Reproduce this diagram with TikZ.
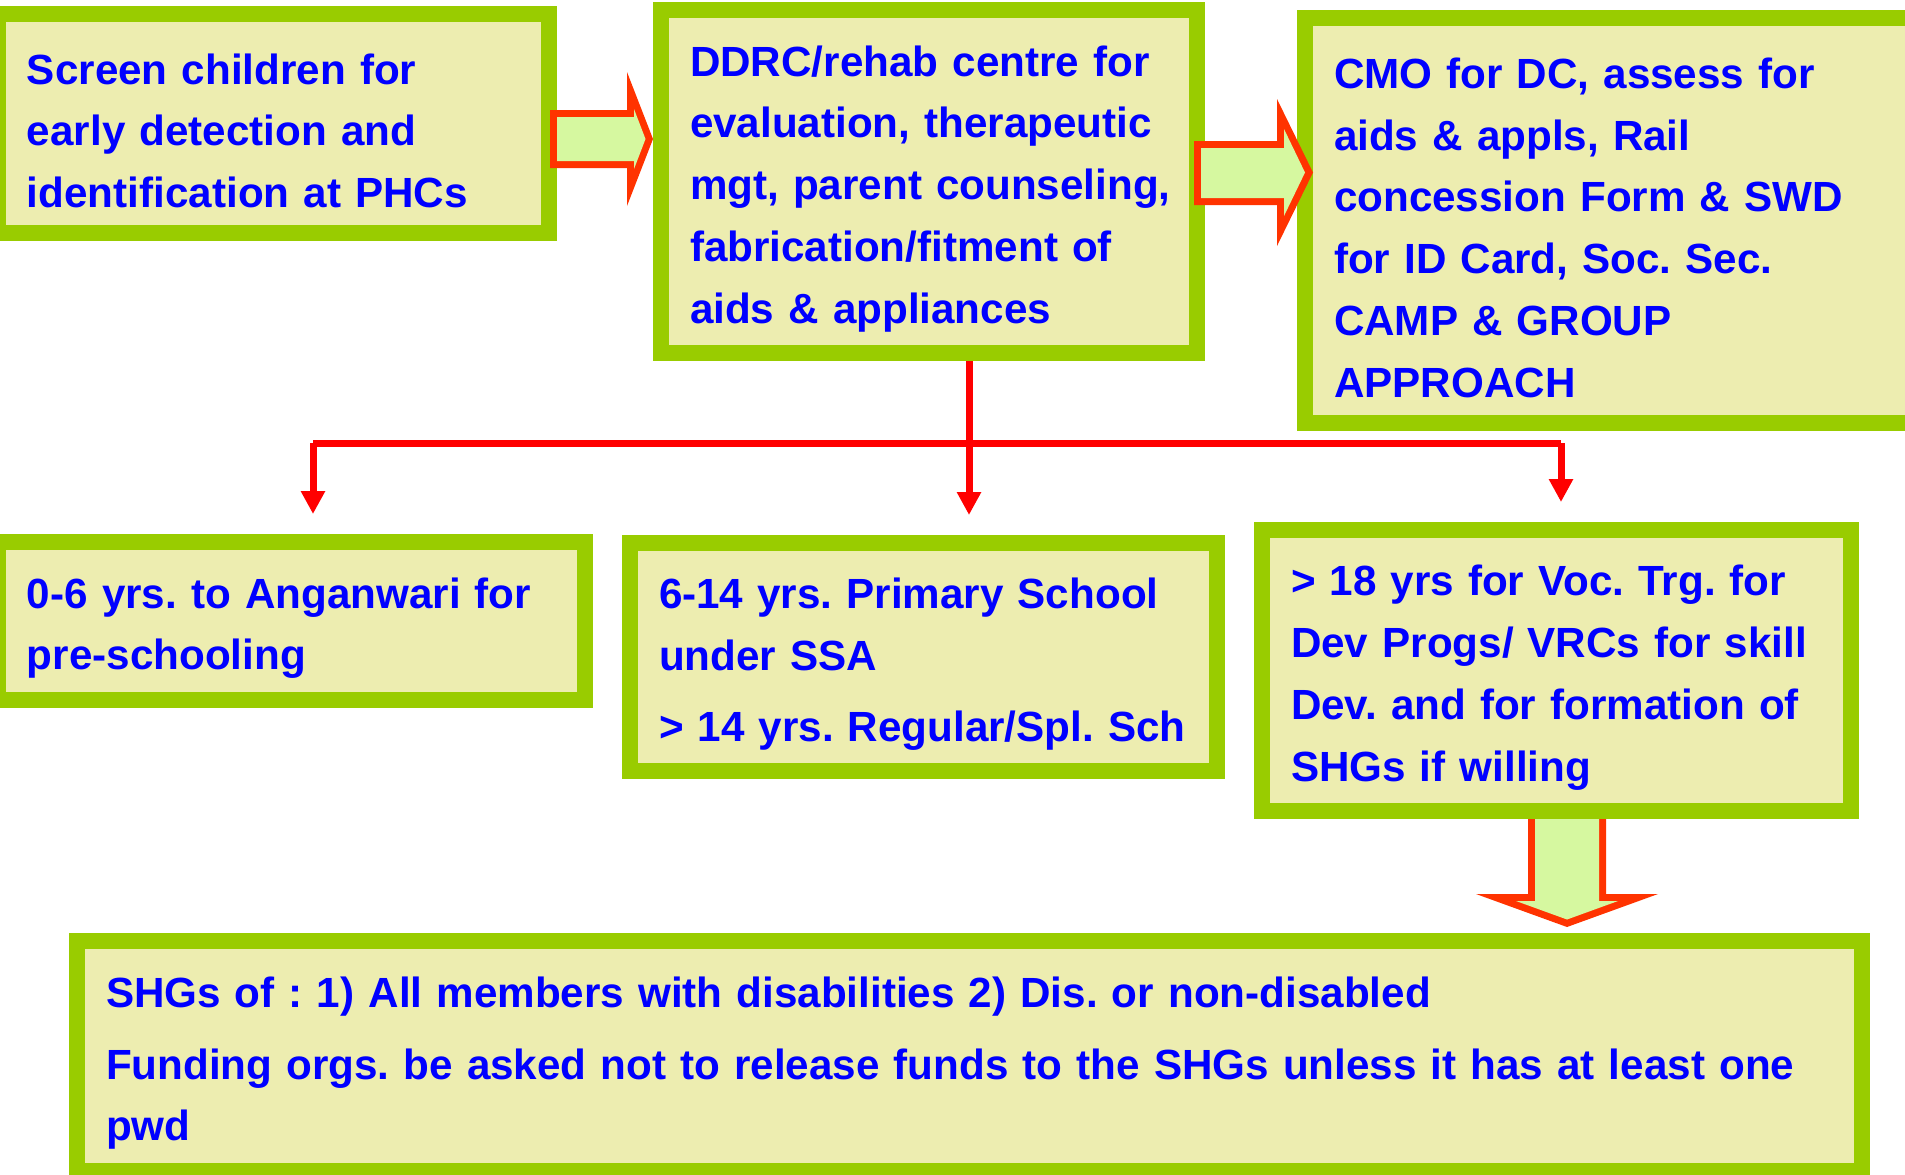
\documentclass[tikz,border=0pt]{standalone}
\usepackage{fontspec}
\setmainfont{Liberation Sans}
\usepackage{xcolor}
\usepackage{tikz}
\usetikzlibrary{arrows.meta,calc}
\definecolor{leaf}{HTML}{99CC00}
\definecolor{cream}{HTML}{EDEDB0}
\definecolor{inkblue}{HTML}{0000FF}
\definecolor{flame}{HTML}{FF3300}
\definecolor{mint}{HTML}{D6F8A0}
\definecolor{redln}{HTML}{FF0000}
\tikzset{
  box/.style={rectangle, draw=leaf, fill=cream, line width=8pt, align=left,
              inner xsep=13pt, inner ysep=0pt, text=inkblue,
              font=\bfseries\frenchspacing\fontsize{21.1pt}{30.9pt}\selectfont,
              execute at begin node={\hyphenpenalty=10000\leftskip=1.5pt\rule{0pt}{22.5pt}}},
  fatout/.style={fill=flame},
  fatin/.style={fill=mint},
  fl/.style={draw=redln, line width=3.5pt},
  fla/.style={fl, -{Triangle[width=11.5pt,length=11.5pt]}, shorten >=10pt},
}

\begin{document}
\begin{tikzpicture}[x=0.5pt,y=-0.5pt]
  \useasboundingbox (0,0) rectangle (1905,1174);
  % down arrow sits under the box above it
  \fill[fatout] (1528,805) -- (1606,805) -- (1606,894) -- (1658,894) -- (1567,927)
    -- (1476,894) -- (1528,894) -- cycle;
  \fill[fatin] (1535,805) -- (1599,805) -- (1599,901) -- (1618,901) -- (1567,919.5)
    -- (1516,901) -- (1535,901) -- cycle;
  \node[box,text width=249.5pt,minimum height=109.5pt] (screen) at (273.5,123.5)
    {Screen children for\\ early detection and\\ identification at PHCs};
  \node[box,text width=242pt,minimum height=171.5pt] (ddrc) at (929,181.5)
    {DDRC/rehab centre for\\ evaluation, therapeutic\\ mgt, parent counseling,\\ fabrication/fitment of\\ aids \& appliances};
  \node[box,text width=280pt,minimum height=202.5pt] (cmo) at (1611,220.5)
    {CMO for DC, assess for\\ aids \& appls, Rail\\ concession Form \& SWD\\ for ID Card, Soc. Sec.\\ CAMP \& GROUP\\ APPROACH};
  \node[box,text width=267.5pt,minimum height=79pt] (age06) at (291.5,621)
    {0-6 yrs. to Anganwari for\\ pre-schooling};
  \node[box,text width=267.5pt,minimum height=114pt] (age614) at (923.5,657)
    {6-14 yrs. Primary School\\ under SSA\\[5pt] > 14 yrs. Regular/Spl. Sch};
  \node[box,text width=268.5pt,minimum height=140.5pt] (adult) at (1556.5,670.5)
    {> 18 yrs for Voc. Trg. for\\ Dev Progs/ VRCs for skill\\ Dev. and for formation of\\ SHGs if willing};
  \node[box,text width=866.5pt,minimum height=115pt] (shg) at (969.5,1056)
    {SHGs of : 1) All members with disabilities 2) Dis. or non-disabled\\[5pt] Funding orgs. be asked not to release funds to the SHGs unless it has at least one\\ pwd};
  % block arrows between the top boxes
  \fill[fatout] (550,110) -- (627,110) -- (627,72) -- (653,139) -- (627,206)
    -- (627,168) -- (550,168) -- cycle;
  \fill[fatin] (557,117) -- (634,117) -- (634,109) -- (645.5,139) -- (634,169)
    -- (634,161) -- (557,161) -- cycle;
  \fill[fatout] (1194,141) -- (1277,141) -- (1277,99) -- (1313,172.5) -- (1277,246)
    -- (1277,205) -- (1194,205) -- cycle;
  \fill[fatin] (1201,148) -- (1284,148) -- (1284,129) -- (1305,172.5) -- (1284,216)
    -- (1284,198) -- (1201,198) -- cycle;
  % red fork
  \coordinate (hub) at (969,443);
  \coordinate (tl) at (313,443);
  \coordinate (tr) at (1561,443);
  \draw[fl] (ddrc.south -| hub) -- (hub);
  \draw[fl] (tl) -- (tr);
  \draw[fla] (tl) -- (tl |- age06.north);
  \draw[fla] (hub) -- (hub |- age614.north);
  \draw[fla] (tr) -- (tr |- adult.north);
\end{tikzpicture}
\end{document}
